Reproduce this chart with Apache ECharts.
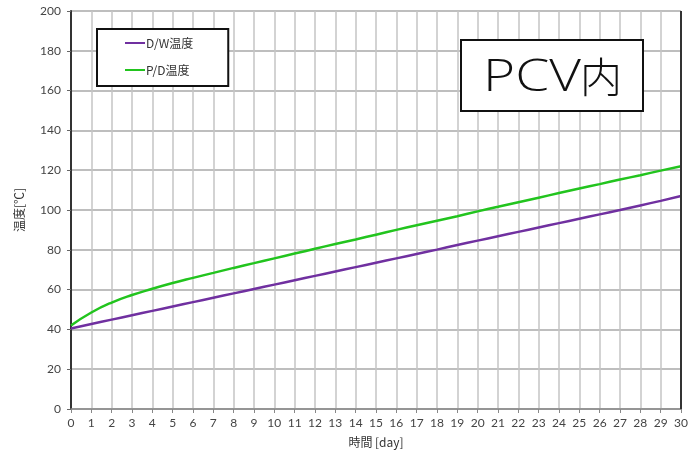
<!DOCTYPE html>
<html>
<head>
<meta charset="utf-8">
<script src="https://cdn.jsdelivr.net/npm/echarts@6/dist/echarts.min.js"></script>
<style>
  html, body { margin: 0; padding: 0; background: #fff; }
  #chart { width: 693px; height: 456px; }
</style>
</head>
<body>
<div id="chart"></div>
<script>
// Elapsed time in days
const days = [0, 1, 2, 3, 4, 5, 6, 7, 8, 9, 10, 11, 12, 13, 14, 15, 16, 17, 18, 19, 20,
  21, 22, 23, 24, 25, 26, 27, 28, 29, 30];
// D/W temperature [°C]
const dwTemp = [40.5, 42.7, 44.9, 47.1, 49.3, 51.5, 53.7, 55.9, 58.1, 60.3, 62.5,
  64.7, 66.9, 69.1, 71.3, 73.5, 75.7, 77.9, 80.1, 82.4, 84.6,
  86.8, 89.0, 91.2, 93.4, 95.6, 97.8, 100.0, 102.3, 104.6, 107.0];
// P/D temperature [°C]
const pdTemp = [42.0, 48.5, 53.5, 57.3, 60.4, 63.3, 65.9, 68.4, 70.9, 73.3, 75.7,
  78.1, 80.5, 82.9, 85.2, 87.6, 90.0, 92.3, 94.6, 96.9, 99.3,
  101.6, 103.9, 106.2, 108.5, 110.8, 113.0, 115.3, 117.5, 119.8, 122.0];
const seriesNames = ['D/W温度', 'P/D温度'];
const yTicks = [0, 20, 40, 60, 80, 100, 120, 140, 160, 180, 200];

const chart = echarts.init(document.getElementById('chart'), null, { renderer: 'canvas' });
const labelFont = 'Lato, "Noto Sans CJK JP", sans-serif';

chart.setOption({
  animation: false,
  backgroundColor: '#fff',
  grid: { left: 71, right: 12, top: 11, bottom: 47, show: false },
  legend: {
    data: seriesNames.map(n => ({ name: n, icon: 'path://M0,0L20,0L20,2L0,2Z' })),
    orient: 'vertical',
    left: 97, top: 29,
    padding: [8, 35, 10, 28],
    itemGap: 15,
    itemWidth: 20, itemHeight: 2,
    borderColor: '#111', borderWidth: 2,
    backgroundColor: '#fff',
    textStyle: { fontFamily: '"Noto Sans CJK JP", sans-serif', fontSize: 12, color: '#333', padding: [0, 0, 0, -4] }
  },
  xAxis: {
    type: 'value', min: 0, max: 30, interval: 1,
    name: '時間 [day]', nameLocation: 'middle', nameGap: 27,
    nameTextStyle: { fontFamily: '"Noto Sans CJK JP", sans-serif', fontSize: 12, color: '#333' },
    axisLine: { show: true, onZero: false, lineStyle: { color: '#888', width: 1.5 } },
    axisTick: { show: true, inside: false, length: 4, lineStyle: { color: '#888' } },
    axisLabel: { fontFamily: labelFont, fontSize: 12, color: '#444', margin: 8 },
    splitLine: { show: true, lineStyle: { color: '#c4c4c4', width: 1.5 } }
  },
  yAxis: {
    type: 'value', min: 0, max: 200, interval: 20,
    name: '温度[℃]', nameLocation: 'middle', nameGap: 46, nameRotate: 90,
    nameTextStyle: { fontFamily: '"Noto Sans CJK JP", sans-serif', fontSize: 12, color: '#333' },
    axisLine: { show: true, onZero: false, lineStyle: { color: '#333', width: 2 } },
    axisTick: { show: true, inside: false, length: 4, lineStyle: { color: '#666' } },
    axisLabel: {
      fontFamily: labelFont, fontSize: 12, color: '#444', margin: 10,
      formatter: v => yTicks.includes(v) ? String(v) : ''
    },
    splitLine: { show: true, lineStyle: { color: '#a8a8a8', width: 1.5 } }
  },
  graphic: [
    // right-hand frame edge
    {
      type: 'line', z: 5,
      shape: { x1: 681, y1: 11, x2: 681, y2: 409 },
      style: { stroke: '#333', lineWidth: 2 }
    },
    // area caption box
    {
      type: 'rect', z: 20, zlevel: 1,
      shape: { x: 461, y: 40, width: 182, height: 71 },
      style: { fill: '#fff', stroke: '#111', lineWidth: 2 }
    },
    {
      type: 'text', z: 21, zlevel: 1, x: 532, y: 78, scaleX: 1.22,
      style: { text: 'PCV', fill: '#111', font: '300 45px "Open Sans", sans-serif',
        align: 'center', verticalAlign: 'middle' }
    },
    {
      type: 'text', z: 21, zlevel: 1, x: 601, y: 77,
      style: { text: '内', fill: '#111', font: '300 42px "Noto Sans CJK JP", sans-serif',
        align: 'center', verticalAlign: 'middle' }
    }
  ],
  series: [
    {
      name: seriesNames[0], type: 'line', symbol: 'none', smooth: true,
      lineStyle: { color: '#7030a0', width: 2.5 }, itemStyle: { color: '#7030a0' },
      data: days.map((d, i) => [d, dwTemp[i]])
    },
    {
      name: seriesNames[1], type: 'line', symbol: 'none', smooth: true,
      lineStyle: { color: '#22c41e', width: 2.5 }, itemStyle: { color: '#22c41e' },
      data: days.map((d, i) => [d, pdTemp[i]])
    }
  ]
});
</script>
</body>
</html>
